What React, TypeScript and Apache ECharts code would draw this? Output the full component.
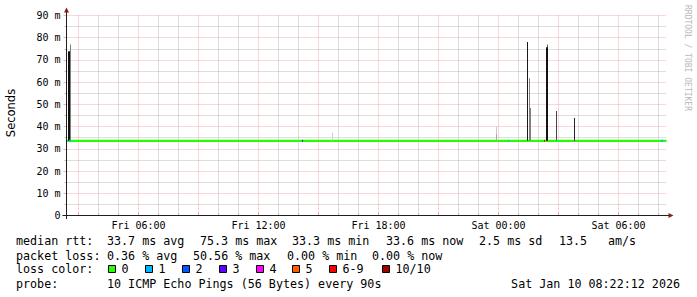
import React, { useEffect, useRef } from "react";
import * as echarts from "echarts";

// ---------- data ----------
// x values are hours since Fri 00:00
const X_MIN = 2.4;
const X_MAX = 32.4;
const TICK_HOURS = [6, 12, 18, 24, 30];
const TICK_LABELS = ["Fri 06:00", "Fri 12:00", "Fri 18:00", "Sat 00:00", "Sat 06:00"];
const Y_MAX = 90;
const Y_STEP = 10;

// median rtt (ms)
const MEDIAN_MS = 33.6;
const MEDIAN_POINTS = [
  [2.4, 33.6],
  [32.4, 33.6],
];

// smoke: [hour, low ms, high ms, density 0..1]
const SMOKE = [
  [2.5, 33.6, 73.9, 0.93],
  [2.55, 33.6, 73.9, 0.93],
  [2.6, 33.6, 76.9, 0.5],
  [15.7, 33.6, 37.2, 0.2],
  [23.9, 33.6, 40.0, 0.2],
  [23.9, 33.6, 36.6, 0.35],
  [25.45, 33.6, 78.1, 0.9],
  [25.55, 33.6, 61.8, 0.5],
  [25.6, 33.6, 48.4, 0.5],
  [26.4, 33.6, 75.7, 0.93],
  [26.45, 33.6, 76.9, 0.6],
  [26.45, 33.6, 75.7, 0.93],
  [26.9, 33.6, 47.0, 0.72],
  [27.8, 33.6, 43.9, 0.85],
];

// loss events on the median line: [hour, loss level index]
const LOSS_MARKS = [
  [2.55, 1],
  [2.6, 1],
  [14.2, 3],
  [24.5, 1],
  [26.3, 6],
  [26.9, 1],
  [27.8, 4],
  [32.15, 1],
  [32.2, 1],
];

const LOSS_LABELS = ["0", "1", "2", "3", "4", "5", "6-9", "10/10"];
const LOSS_COLORS = ["#26ff00", "#00b8ff", "#0059ff", "#5e00ff", "#ff00fe", "#ff5e00", "#ff0000", "#a10000"];

const RTT_STATS = ["33.7 ms avg", "75.3 ms max", "33.3 ms min", "33.6 ms now", "2.5 ms sd", "13.5", "am/s"];
const LOSS_STATS = ["0.36 % avg", "50.56 % max", "0.00 % min", "0.00 % now"];
const PROBE_TEXT = "10 ICMP Echo Pings (56 Bytes) every 90s";
const STAMP_TEXT = "Sat Jan 10 08:22:12 2026";

// ---------- layout ----------
const GRID_LEFT = 66.5;
const GRID_TOP = 15.5;
const GRID_W = 600;
const GRID_H = 200;
const MONO = '"DejaVu Sans Mono", "Liberation Mono", monospace';
const GRID_COLOR = "rgba(143,143,143,0.6)";
const MGRID_COLOR = "rgba(222,79,79,0.45)";
const ARROW_COLOR = "#801f1f";
const AXIS_COLOR = "#1f1f1f";
const LEGEND_FONT = `11.7px ${MONO}`;

const RTT_X = [107, 200, 292, 386, 479, 559, 608];
const LOSS_X = [107, 193, 287, 372];
const BOX_X = [108, 145, 182, 219, 256, 292, 329, 382];
const ROW_Y = [241, 255.5, 269, 283.5];

function range(a: number, b: number): number[] {
  const out: number[] = [];
  for (let v = a; v <= b; v++) out.push(v);
  return out;
}

export default function App() {
  const ref = useRef<HTMLDivElement>(null);

  useEffect(() => {
    if (!ref.current) return;
    const chart = echarts.init(ref.current, null, { renderer: "svg" });

    const allHours = range(Math.ceil(X_MIN), Math.floor(X_MAX));
    const minorHours = allHours.filter((h) => h % 3 !== 0);
    const majorHours = allHours.filter((h) => h % 3 === 0);

    const text = (t: string, x: number, y: number, extra: any = {}) => ({
      type: "text",
      x,
      y,
      silent: true,
      style: {
        text: t,
        font: LEGEND_FONT,
        fill: "#000",
        align: "left",
        verticalAlign: "middle",
        ...extra,
      },
    });

    const graphics: any[] = [];
    const axisY = GRID_TOP + GRID_H;
    graphics.push({
      type: "line",
      silent: true,
      shape: { x1: GRID_LEFT - 4, y1: axisY, x2: GRID_LEFT + GRID_W + 3, y2: axisY },
      style: { stroke: AXIS_COLOR, lineWidth: 1 },
      z: 10,
    });
    graphics.push({
      type: "line",
      silent: true,
      shape: { x1: GRID_LEFT, y1: axisY + 3.5, x2: GRID_LEFT, y2: GRID_TOP - 4 },
      style: { stroke: AXIS_COLOR, lineWidth: 1 },
      z: 10,
    });
    graphics.push({
      type: "polygon",
      silent: true,
      shape: {
        points: [
          [GRID_LEFT, GRID_TOP - 8],
          [GRID_LEFT - 2.5, GRID_TOP - 3],
          [GRID_LEFT + 2.5, GRID_TOP - 3],
        ],
      },
      style: { fill: ARROW_COLOR },
      z: 11,
    });
    graphics.push({
      type: "polygon",
      silent: true,
      shape: {
        points: [
          [GRID_LEFT + GRID_W + 7, axisY],
          [GRID_LEFT + GRID_W + 2, axisY - 2.5],
          [GRID_LEFT + GRID_W + 2, axisY + 2.5],
        ],
      },
      style: { fill: ARROW_COLOR },
      z: 11,
    });
    graphics.push({
      type: "text",
      x: 11,
      y: 113,
      rotation: Math.PI / 2,
      silent: true,
      style: {
        text: "Seconds",
        font: '11.5px "DejaVu Sans", sans-serif',
        fill: "#000",
        align: "center",
        verticalAlign: "middle",
      },
    });
    graphics.push({
      type: "text",
      x: 687.5,
      y: 5,
      rotation: -Math.PI / 2,
      silent: true,
      style: {
        text: "RRDTOOL / TOBI OETIKER",
        font: `8px ${MONO}`,
        fill: "#b8b8b8",
        align: "left",
        verticalAlign: "middle",
      },
    });
    graphics.push(text("median rtt:", 16, ROW_Y[0]));
    RTT_STATS.forEach((s, i) => graphics.push(text(s, RTT_X[i], ROW_Y[0])));
    graphics.push(text("packet loss:", 16, ROW_Y[1]));
    LOSS_STATS.forEach((s, i) => graphics.push(text(s, LOSS_X[i], ROW_Y[1])));
    graphics.push(text("loss color:", 16, ROW_Y[2]));
    LOSS_LABELS.forEach((lab, i) => {
      graphics.push({
        type: "rect",
        silent: true,
        shape: { x: BOX_X[i] + 0.5, y: ROW_Y[2] - 3.5, width: 7, height: 7 },
        style: { fill: LOSS_COLORS[i], stroke: "#000", lineWidth: 1 },
      });
      graphics.push(text(lab, BOX_X[i] + 13.5, ROW_Y[2]));
    });
    graphics.push(text("probe:", 16, ROW_Y[3]));
    graphics.push(text(PROBE_TEXT, 107, ROW_Y[3]));
    graphics.push(text(STAMP_TEXT, 680, ROW_Y[3], { align: "right" }));

    const labelFor = (v: number) => {
      const i = TICK_HOURS.indexOf(v);
      return i >= 0 ? TICK_LABELS[i] : "";
    };

    const option: any = {
      animation: false,
      backgroundColor: "#ffffff",
      grid: { left: GRID_LEFT, top: GRID_TOP, width: GRID_W, height: GRID_H },
      xAxis: [
        {
          type: "value",
          min: X_MIN,
          max: X_MAX,
          axisLine: { show: false },
          axisTick: {
            show: true,
            customValues: minorHours,
            length: 2,
            inside: true,
            lineStyle: { color: GRID_COLOR },
          },
          axisLabel: {
            show: true,
            customValues: TICK_HOURS,
            formatter: (v: number) => labelFor(Math.round(v)),
            fontFamily: MONO,
            fontSize: 10,
            color: "#000",
            margin: 5,
          },
          splitLine: { show: true, lineStyle: { color: GRID_COLOR, type: [1, 1], width: 1 } },
        },
        {
          type: "value",
          min: X_MIN,
          max: X_MAX,
          position: "bottom",
          axisLine: { show: false },
          axisTick: {
            show: true,
            customValues: majorHours,
            length: 3,
            inside: true,
            lineStyle: { color: MGRID_COLOR },
          },
          axisLabel: { show: false },
          splitLine: { show: true, lineStyle: { color: MGRID_COLOR, type: [1, 1], width: 1 } },
        },
      ],
      yAxis: {
        type: "value",
        min: 0,
        max: Y_MAX,
        interval: Y_STEP,
        axisLine: { show: false },
        axisTick: { show: true, length: 3, lineStyle: { color: MGRID_COLOR } },
        minorTick: { show: true, splitNumber: 2, length: 2, lineStyle: { color: GRID_COLOR } },
        axisLabel: {
          formatter: (v: number) => (v === 0 ? "0" : `${v} m`),
          fontFamily: MONO,
          fontSize: 10,
          color: "#000",
          margin: 6,
        },
        splitLine: { show: true, lineStyle: { color: MGRID_COLOR, type: [1, 1], width: 1 } },
        minorSplitLine: { show: true, lineStyle: { color: GRID_COLOR, type: [1, 1], width: 1 } },
      },
      series: [
        {
          type: "line",
          xAxisIndex: 0,
          yAxisIndex: 0,
          data: MEDIAN_POINTS,
          showSymbol: false,
          symbol: "none",
          lineStyle: { color: LOSS_COLORS[0], width: 2.2 },
          z: 3,
          silent: true,
        },
        {
          type: "custom",
          xAxisIndex: 0,
          yAxisIndex: 0,
          data: SMOKE,
          z: 4,
          silent: true,
          renderItem: (_params: any, api: any) => {
            const h = api.value(0);
            const top = api.coord([h, api.value(2)]);
            const bot = api.coord([h, api.value(1)]);
            const g = Math.round(255 * (1 - api.value(3)));
            return {
              type: "rect",
              shape: { x: top[0] - 0.5, y: top[1], width: 1, height: bot[1] - top[1] },
              style: { fill: `rgb(${g},${g},${g})` },
            };
          },
        },
        {
          type: "custom",
          xAxisIndex: 0,
          yAxisIndex: 0,
          data: LOSS_MARKS,
          z: 5,
          silent: true,
          renderItem: (_params: any, api: any) => {
            const p = api.coord([api.value(0), MEDIAN_MS]);
            return {
              type: "rect",
              shape: { x: p[0] - 0.5, y: p[1] - 1, width: 1, height: 2 },
              style: { fill: LOSS_COLORS[api.value(1)] },
            };
          },
        },
      ],
      graphic: graphics,
    };

    chart.setOption(option);
    return () => chart.dispose();
  }, []);

  return (
    <div
      ref={ref}
      style={{ position: "fixed", left: 0, top: 0, width: 697, height: 297, background: "#fff" }}
    />
  );
}
